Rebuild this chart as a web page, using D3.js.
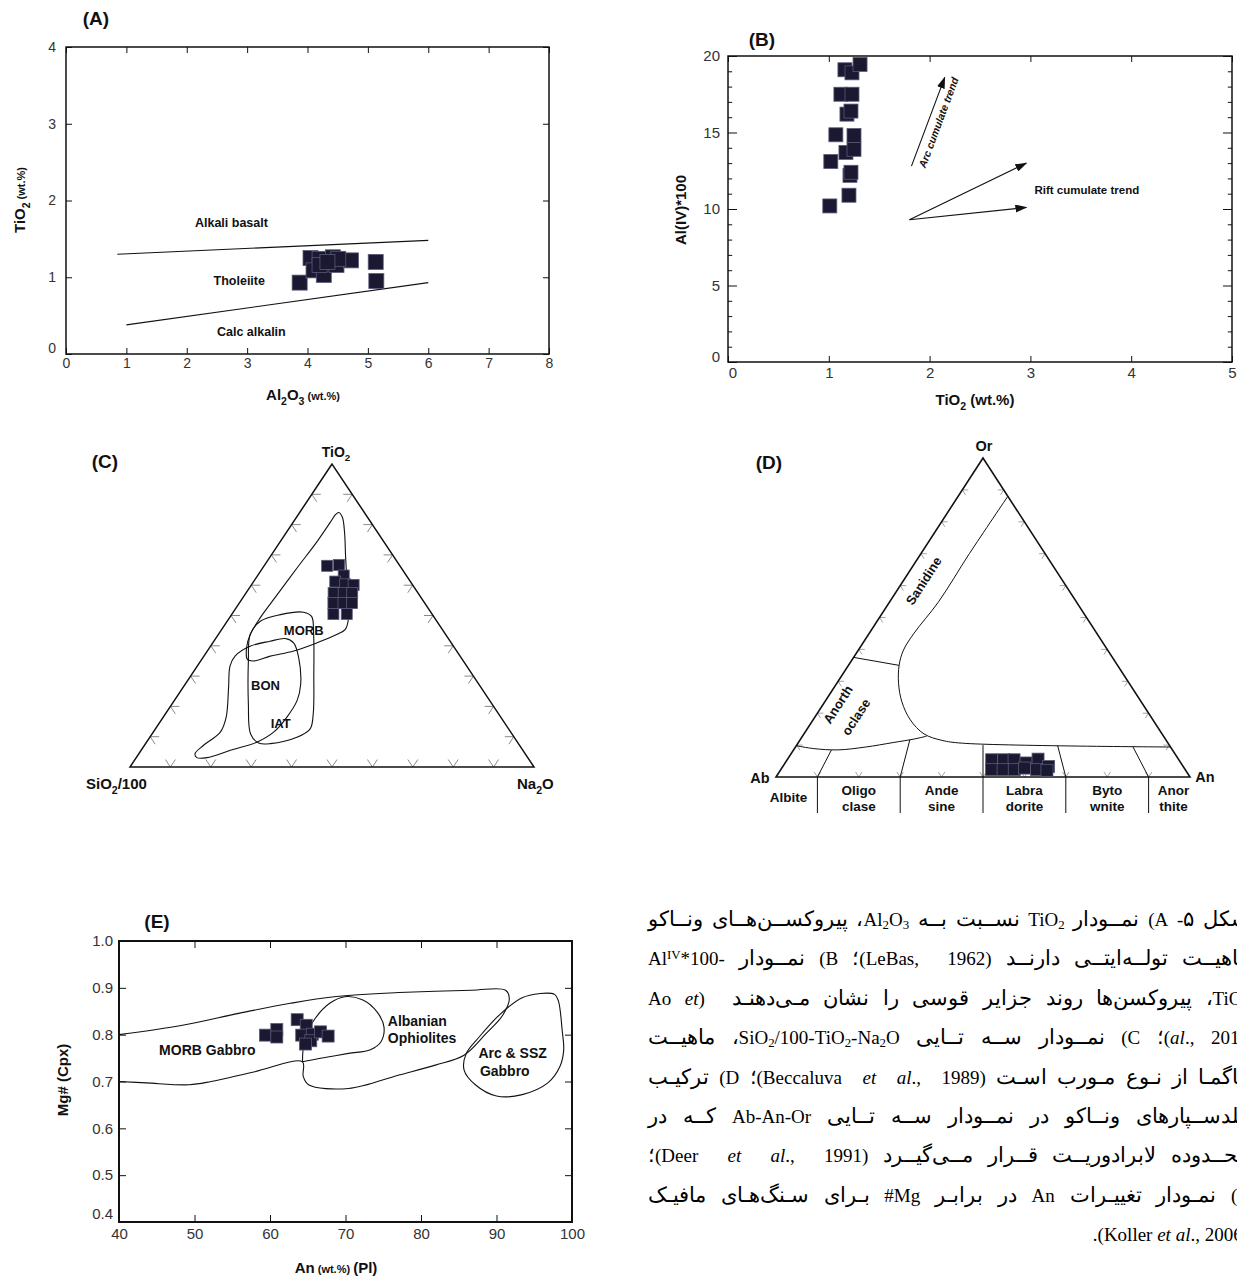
<!DOCTYPE html>
<html>
<head>
<meta charset="utf-8">
<script src="https://cdn.jsdelivr.net/npm/d3@7"></script>
<style>
  @font-face {
    font-family: "FaArabic";
    src: local("DejaVu Sans"), local("DejaVuSans");
    unicode-range: U+0600-06FF, U+200C-200F, U+FB50-FDFF, U+FE70-FEFF;
    size-adjust: 113%;
  }
  html, body { margin: 0; padding: 0; background: #fff; overflow: hidden; width: 1237px; height: 1280px; }
  svg { position: absolute; left: 0; top: 0; }
  .fa { position: absolute; left: 648px; width: 601px; direction: rtl; white-space: nowrap;
        font-family: "FaArabic", "Liberation Serif", "DejaVu Sans", serif; font-size: 19px; line-height: 1; color: #000; }
  .fa sub { font-size: 0.68em; vertical-align: -0.25em; line-height: 0; }
  .fa sup { font-size: 0.68em; vertical-align: 0.5em; line-height: 0; }
</style>
</head>
<body>
<svg id="fig" width="1237" height="1280"></svg>
<script>
// ---------- (A) TiO2 vs Al2O3 of clinopyroxene ----------
const aAl2O3 = [3.87, 4.05, 4.20, 4.10, 4.27, 4.42, 4.48, 4.72, 5.13, 5.14, 4.20, 4.51, 4.33];
const aTiO2  = [0.93, 1.25, 1.24, 1.09, 1.03, 1.26, 1.16, 1.22, 1.20, 0.95, 1.16, 1.24, 1.20];
const aAlkaliLine = [[0.85, 1.30], [6.0, 1.48]];
const aCalcLine   = [[1.0, 0.38], [6.0, 0.93]];
const aFieldNames = [["Alkali basalt", 2.74, 1.71], ["Tholeiite", 2.87, 0.95], ["Calc alkalin", 3.07, 0.29]];
const aXTicks = [0, 1, 2, 3, 4, 5, 6, 7, 8];
const aYTicks = [0, 1, 2, 3, 4];

// ---------- (B) Al(IV)*100 vs TiO2 ----------
const bTiO2 = [1.01, 1.20, 1.21, 1.22, 1.02, 1.17, 1.25, 1.07, 1.25, 1.18, 1.22, 1.12, 1.23, 1.16, 1.23, 1.31];
const bAlIV = [10.2, 10.9, 12.2, 12.4, 13.1, 13.7, 13.9, 14.85, 14.8, 16.2, 16.4, 17.5, 17.5, 19.1, 18.9, 19.45];
const bArcArrow   = [[1.82, 12.8], [2.15, 18.6]];
const bRiftArrows = [[[1.80, 9.3], [2.96, 13.0]], [[1.80, 9.3], [2.96, 10.1]]];
const bXTicks = [0, 1, 2, 3, 4, 5];
const bYTicks = [0, 5, 10, 15, 20];

// ---------- (C) SiO2/100 - TiO2 - Na2O ternary, values as [TiO2 %, Na2O %] ----------
const cSamples = [[66.4, 15.6], [66.7, 18.4], [63.2, 21.3], [61.2, 20.2], [60.3, 23.1], [60.1, 25.3],
                  [57.4, 21.7], [57.4, 24.2], [57.4, 26.3], [54.1, 23.3], [54.1, 25.8], [54.1, 27.9],
                  [50.5, 25.1], [50.5, 28.4]];
const cMORB = [[84.0, 9.7], [82.5, 11.3], [77.6, 14.3], [69.9, 18.4], [62.3, 22.5], [54.6, 26.7], [49.2, 29.5],
               [45.4, 30.6], [43.7, 29.3], [41.0, 25.8], [38.3, 21.4], [36.6, 16.4], [35.0, 13.1], [35.5, 11.3],
               [39.3, 9.2], [43.7, 7.9], [49.2, 7.6], [56.8, 8.0], [65.6, 8.5], [74.3, 9.1], [80.9, 9.2], [83.3, 9.2]];
const cBON  = [[43.7, 7.9], [48.1, 8.2], [50.3, 12.1], [51.1, 17.4], [49.7, 20.1], [43.7, 23.6], [30.6, 30.2],
               [17.5, 36.6], [12.6, 38.3], [9.8, 36.4], [7.7, 30.9], [7.9, 27.9], [10.9, 24.4], [20.8, 18.9], [35.0, 11.8]];
const cIAT  = [[3.1, 15.0], [4.4, 13.9], [7.1, 14.6], [11.5, 16.6], [16.4, 15.6], [26.2, 11.3], [33.3, 8.1],
               [36.6, 7.7], [39.9, 9.9], [41.5, 13.9], [42.4, 17.2], [41.0, 20.0], [36.1, 23.7], [27.3, 28.6],
               [21.9, 30.4], [16.4, 30.6], [11.5, 29.8], [8.2, 27.3], [5.5, 22.1], [3.1, 17.5]];
const cFieldNames = [["MORB", 45.2, 20.4], ["BON", 26.9, 20.1], ["IAT", 14.4, 30.1]];

// ---------- (D) Ab - An - Or feldspar ternary, values as [Or %, An %] ----------
const dSamples = [[5.4, 49.4], [5.4, 52.3], [5.4, 54.8], [4.4, 58.2], [5.6, 60.5], [3.3, 64.2],
                  [2.3, 50.9], [2.3, 53.7], [2.3, 56.4], [2.8, 58.6], [2.3, 61.8], [2.1, 64.4]];
const dSanidineLine = [[88.0, 12.0], [70.0, 11.7], [54.9, 11.8], [45.0, 10.8], [39.8, 10.9], [35.1, 12.2],
                       [29.4, 14.9], [23.6, 18.6], [17.9, 23.5], [13.5, 29.0], [11.5, 34.3], [10.6, 39.7], [9.4, 90.6]];
const dAnorthoclaseTop = [[37.5, 0.0], [35.0, 12.2]];
const dAnorthoclaseBase = [[9.8, 0.0], [8.9, 4.7], [8.5, 10.7], [9.4, 17.0], [10.8, 22.9], [11.9, 27.4], [12.8, 30.0]];
const dPlagSplits = [10, 30, 50, 70, 90];          // An/(An+Ab) %
const dPlagSplitOr = [8.5, 11.7, 10.0, 9.8, 9.5];   // Or % where each divider stops
const dPlagNames = [["Albite"], ["Oligo", "clase"], ["Ande", "sine"], ["Labra", "dorite"], ["Byto", "wnite"], ["Anor", "thite"]];
const dPlagMid = [3, 20, 40, 60, 80, 96];

// ---------- (E) Mg# (Cpx) vs An (Pl) ----------
const eAn = [59.4, 60.9, 60.9, 63.6, 64.8, 64.2, 65.6, 65.4, 66.7, 67.7, 64.7];
const eMg = [0.799, 0.811, 0.795, 0.832, 0.820, 0.799, 0.801, 0.787, 0.806, 0.797, 0.780];
const eMORBGabbro = [[40, 0.80], [48.4, 0.82], [56.0, 0.846], [62.7, 0.867], [68.5, 0.881], [77.1, 0.890],
                     [86.7, 0.895], [91.2, 0.895], [91.7, 0.876], [90.8, 0.841], [88.6, 0.802], [85.7, 0.756],
                     [81.9, 0.735], [77.1, 0.714], [70.4, 0.685], [65.1, 0.693], [64.4, 0.711], [64.3, 0.742],
                     [58.0, 0.721], [52.2, 0.700], [49.3, 0.693], [43.6, 0.697], [40, 0.70]];
const eAlbanian = [[64.3, 0.742], [64.6, 0.790], [66.0, 0.835], [68.0, 0.868], [69.9, 0.881], [72.3, 0.874],
                   [74.2, 0.848], [75.1, 0.816], [74.7, 0.785], [73.3, 0.768], [70.4, 0.760], [66.5, 0.749], [64.3, 0.742]];
const eArcSSZ = [[95.8, 0.888], [97.7, 0.886], [98.2, 0.872], [98.7, 0.809], [98.9, 0.767], [98.4, 0.732],
                 [96.8, 0.697], [93.4, 0.672], [90.0, 0.669], [87.2, 0.693], [85.7, 0.725], [86.0, 0.760],
                 [87.7, 0.795], [90.5, 0.844], [93.4, 0.879], [95.8, 0.888]];
const eXTicks = [40, 50, 60, 70, 80, 90, 100];
const eYTicks = [0.4, 0.5, 0.6, 0.7, 0.8, 0.9, 1.0];

// ---------- caption (Persian) ----------
const faLines = [
  "شکل ۵- A) نمــودار TiO<sub>2</sub> نســبت بــه Al<sub>2</sub>O<sub>3</sub>، پیروکســن‌هــای ونــاکو",
  "ماهیــت تولــه‌ایتــی دارنــد (LeBas,&nbsp; 1962)؛ B) نمــودار -Al<sup>IV</sup>*100",
  "TiO<sub>2</sub>، پیروکسن‌ها روند جزایر قوسی را نشان مـی‌دهنـد &nbsp;(Ao <i>et</i>",
  "<i>al</i>., 2010)؛ C) نمــودار ســه تــایی SiO<sub>2</sub>/100-TiO<sub>2</sub>-Na<sub>2</sub>O، ماهیــت",
  "ماگمـا از نـوع مـورب اسـت (Beccaluva&nbsp; <i>et&nbsp; al</i>.,&nbsp; 1989)؛ D) ترکیـب",
  "فلدســپارهای ونــاکو در نمــودار ســه تــایی Ab-An-Or کــه در",
  "محــدوده لابرادوریــت قــرار مــی‌گیــرد (Deer&nbsp; <i>et&nbsp; al</i>.,&nbsp; 1991)؛",
  "E) نمـودار تغییـرات An در برابـر Mg# بـرای سـنگ‌هـای مافیـک",
  "(Koller <i>et al</i>., 2006)."
];

// ================= drawing =================
const svg = d3.select("#fig");
const SANS = '"Liberation Sans", Arial, sans-serif';
const NARROW = '"Liberation Sans Narrow", "Liberation Sans", Arial, sans-serif';
const INK = "#111";
const MARK_FILL = "#1a1931", MARK_EDGE = "#5a5a78";

function rich(sel, parts, base) {
  let shift = 0;
  parts.forEach(p => {
    const want = p.sub ? base * 0.3 : 0;
    sel.append("tspan")
      .attr("dy", want - shift)
      .attr("font-size", p.size || (p.sub ? base * 0.7 : base))
      .text(p.t);
    shift = want;
  });
  return sel;
}

function label(g, x, y, parts, o = {}) {
  const t = g.append("text").attr("x", x).attr("y", y)
    .attr("font-family", o.family || SANS).attr("font-weight", o.weight || "bold")
    .attr("font-style", o.style || "normal")
    .attr("text-anchor", o.anchor || "middle").attr("fill", o.fill || INK)
    .attr("font-size", o.size || 14);
  if (o.rotate !== undefined) t.attr("transform", `rotate(${o.rotate},${x},${y})`);
  if (typeof parts === "string") t.text(parts); else rich(t, parts, o.size || 14);
  return t;
}

function squares(g, pts, size) {
  g.selectAll(null).data(pts).join("rect")
    .attr("x", d => d[0] - size / 2).attr("y", d => d[1] - size / 2)
    .attr("width", size).attr("height", size)
    .attr("fill", MARK_FILL).attr("stroke", MARK_EDGE).attr("stroke-width", 0.8);
}

function styleAxis(a, fs) {
  a.select(".domain").remove();
  a.selectAll(".tick line").attr("stroke", INK).attr("stroke-width", 1);
  a.selectAll(".tick text").attr("font-family", SANS).attr("font-size", fs).attr("fill", "#333");
}

function box(g, x, y, o) {
  const [x0, x1] = x.range(), [y0, y1] = y.range();
  const ts = o.ts || 6, fs = o.fs || 14;
  const bottom = g.append("g").attr("transform", `translate(0,${y0})`)
    .call(d3.axisBottom(x).tickValues(o.xt).tickSize(-ts).tickSizeOuter(0).tickPadding(o.xpad || 5).tickFormat(o.xf || d3.format("")));
  styleAxis(bottom, fs);
  const top = g.append("g").attr("transform", `translate(0,${y1})`)
    .call(d3.axisTop(x).tickValues(o.xt).tickSize(-ts).tickSizeOuter(0).tickFormat(""));
  styleAxis(top, fs);
  const ytAll = o.ytMinor || o.yt;
  const left = g.append("g").attr("transform", `translate(${x0},0)`)
    .call(d3.axisLeft(y).tickValues(ytAll).tickSize(-ts).tickSizeOuter(0).tickPadding(o.ypad || 6)
      .tickFormat(d => o.yt.includes(d) ? (o.yf || d3.format(""))(d) : ""));
  styleAxis(left, fs);
  const right = g.append("g").attr("transform", `translate(${x1},0)`)
    .call(d3.axisRight(y).tickValues(ytAll).tickSize(-ts).tickSizeOuter(0).tickFormat(""));
  styleAxis(right, fs);
  if (o.ytMinor) {
    [left, right].forEach(a => a.selectAll(".tick line")
      .attr("x2", function (d) { const v = +d3.select(this).attr("x2"); return o.yt.includes(d) ? v * 1.5 : v * 0.7; }));
  }
  g.append("rect").attr("x", x0).attr("y", y1).attr("width", x1 - x0).attr("height", y0 - y1)
    .attr("fill", "none").attr("stroke", INK).attr("stroke-width", o.sw || 1.5);
  return { bottom, left };
}

// ---------- panel A ----------
{
  const g = svg.append("g");
  const x = d3.scaleLinear().domain([0, 8]).range([66, 549]);
  const y = d3.scaleLinear().domain([0, 4]).range([354, 47]);
  const ax = box(g, x, y, { xt: aXTicks, yt: aYTicks, ts: 6, fs: 14, xpad: 4, ypad: 10 });
  ax.left.selectAll(".tick").filter(d => d === 0).select("text").attr("dy", "-0.1em");
  const line = d3.line().x(d => x(d[0])).y(d => y(d[1]));
  [aAlkaliLine, aCalcLine].forEach(l => g.append("path").attr("d", line(l)).attr("fill", "none").attr("stroke", INK).attr("stroke-width", 1.1));
  aFieldNames.forEach(([t, vx, vy]) => label(g, x(vx), y(vy) + 4, t, { size: 12.5, family: NARROW }));
  squares(g, aAl2O3.map((v, i) => [x(v), y(aTiO2[i])]), 15);
  label(g, 96, 25, "(A)", { size: 19 });
  label(g, 303, 400, [{ t: "Al" }, { t: "2", sub: true }, { t: "O" }, { t: "3", sub: true }, { t: " (wt.%)", size: 11 }], { size: 15 });
  label(g, 25, 200, [{ t: "TiO" }, { t: "2", sub: true }, { t: " (wt.%)", size: 11 }], { size: 15, rotate: -90 });
}

// ---------- panel B ----------
{
  const g = svg.append("g");
  const x = d3.scaleLinear().domain([0, 5]).range([728, 1232]);
  const y = d3.scaleLinear().domain([0, 20]).range([362, 56]);
  const minor = d3.range(0, 21, 1);
  const ax = box(g, x, y, { xt: bXTicks, yt: bYTicks, ytMinor: minor, ts: 6, fs: 15, xpad: 5, ypad: 8 });
  ax.left.selectAll(".tick").filter(d => d === 0).select("text").attr("dy", "-0.05em");
  ax.bottom.selectAll(".tick").filter(d => d === 0).select("text").attr("dx", "0.3em");
  squares(g, bTiO2.map((v, i) => [x(v), y(bAlIV[i])]), 14);

  const defs = svg.append("defs");
  defs.append("marker").attr("id", "head").attr("viewBox", "0 0 12 8").attr("refX", 11).attr("refY", 4)
    .attr("markerWidth", 12).attr("markerHeight", 8).attr("markerUnits", "userSpaceOnUse").attr("orient", "auto")
    .append("path").attr("d", "M0,0 L12,4 L0,8 Z").attr("fill", INK);
  const line = d3.line().x(d => x(d[0])).y(d => y(d[1]));
  [bArcArrow, ...bRiftArrows].forEach(a => g.append("path").attr("d", line(a)).attr("fill", "none")
    .attr("stroke", INK).attr("stroke-width", 1.1).attr("marker-end", "url(#head)"));
  const [p0, p1] = bArcArrow.map(d => [x(d[0]), y(d[1])]);
  const ang = Math.atan2(p1[1] - p0[1], p1[0] - p0[0]) * 180 / Math.PI;
  const mx = (p0[0] + p1[0]) / 2 + 14, my = (p0[1] + p1[1]) / 2 + 2;
  label(g, mx, my, "Arc cumulate trend", { size: 10.5, family: NARROW, style: "italic", rotate: ang });
  label(g, x(3.04), y(11.0), "Rift cumulate trend", { size: 11.5, family: NARROW, anchor: "start" });
  label(g, 762, 46, "(B)", { size: 19 });
  label(g, 975, 405, [{ t: "TiO" }, { t: "2", sub: true }, { t: " (wt.%)" }], { size: 15 });
  label(g, 686, 210, "Al(IV)*100", { size: 15, rotate: -90 });
}

// ---------- ternary helpers ----------
function ternTicks(g, proj, L, color, sw) {
  const V = [[100, 0], [0, 0], [0, 100]].map(proj);
  const edges = [[1, 2, 0], [1, 0, 2], [2, 0, 1]];
  const segs = [];
  edges.forEach(([i, j, k]) => {
    for (let s = 1; s < 10; s++) {
      const t = s / 10;
      const E = [V[i][0] + t * (V[j][0] - V[i][0]), V[i][1] + t * (V[j][1] - V[i][1])];
      [i, j].forEach(m => {
        const dx = V[k][0] - V[m][0], dy = V[k][1] - V[m][1], n = Math.hypot(dx, dy);
        segs.push([E, [E[0] + L * dx / n, E[1] + L * dy / n]]);
      });
    }
  });
  g.selectAll(null).data(segs).join("line")
    .attr("x1", d => d[0][0]).attr("y1", d => d[0][1]).attr("x2", d => d[1][0]).attr("y2", d => d[1][1])
    .attr("stroke", color).attr("stroke-width", sw);
}
function ternFrame(g, proj, sw) {
  const V = [[100, 0], [0, 0], [0, 100]].map(proj);
  g.append("path").attr("d", "M" + V.map(p => p.join(",")).join("L") + "Z")
    .attr("fill", "none").attr("stroke", INK).attr("stroke-width", sw).attr("stroke-linejoin", "miter");
}

// ---------- panel C ----------
{
  const g = svg.append("g");
  const u = d3.scaleLinear().domain([0, 100]).range([130, 534]);   // Na2O + TiO2/2 along the base
  const v = d3.scaleLinear().domain([0, 100]).range([767, 464]);   // TiO2 height
  const proj = ([ti, na]) => [u(na + ti / 2), v(ti)];
  ternTicks(g, proj, 9, "#8a8a8a", 1);
  ternFrame(g, proj, 1.5);
  const loop = d3.line().x(d => proj(d)[0]).y(d => proj(d)[1]).curve(d3.curveCatmullRomClosed.alpha(0.5));
  [cMORB, cBON, cIAT].forEach(f => g.append("path").attr("d", loop(f)).attr("fill", "none").attr("stroke", INK).attr("stroke-width", 1.1));
  cFieldNames.forEach(([t, ti, na]) => { const p = proj([ti, na]); label(g, p[0], p[1] + 5, t, { size: 13 }); });
  squares(g, cSamples.map(proj), 11);
  label(g, 105, 468, "(C)", { size: 19 });
  label(g, 336, 457, [{ t: "TiO" }, { t: "2", sub: true }], { size: 14 });
  label(g, 86, 789, [{ t: "SiO" }, { t: "2", sub: true }, { t: "/100" }], { size: 15, anchor: "start" });
  label(g, 517, 789, [{ t: "Na" }, { t: "2", sub: true }, { t: "O" }], { size: 15, anchor: "start" });
}

// ---------- panel D ----------
{
  const g = svg.append("g");
  const u = d3.scaleLinear().domain([0, 100]).range([776, 1190]);  // An + Or/2 along the base
  const v = d3.scaleLinear().domain([0, 100]).range([777, 458]);   // Or height
  const proj = ([or, an]) => [u(an + or / 2), v(or)];
  ternTicks(g, proj, 6, "#9a9a9a", 0.9);
  ternFrame(g, proj, 1.6);
  const path = d3.line().x(d => proj(d)[0]).y(d => proj(d)[1]);
  const smooth = d3.line().x(d => proj(d)[0]).y(d => proj(d)[1]).curve(d3.curveCatmullRom.alpha(0.5));
  g.append("path").attr("d", smooth(dSanidineLine)).attr("fill", "none").attr("stroke", INK).attr("stroke-width", 1);
  g.append("path").attr("d", path(dAnorthoclaseTop)).attr("fill", "none").attr("stroke", INK).attr("stroke-width", 1);
  g.append("path").attr("d", smooth(dAnorthoclaseBase)).attr("fill", "none").attr("stroke", INK).attr("stroke-width", 1);
  dPlagSplits.forEach((p, i) => {
    const o = dPlagSplitOr[i];
    g.append("path").attr("d", path([[0, p], [o, p * (100 - o) / 100]])).attr("fill", "none").attr("stroke", INK).attr("stroke-width", 1);
    const b = proj([0, p]);
    g.append("line").attr("x1", b[0]).attr("x2", b[0]).attr("y1", b[1]).attr("y2", b[1] + 36)
      .attr("stroke", INK).attr("stroke-width", 1);
  });
  squares(g, dSamples.map(proj), 12);
  dPlagNames.forEach((n, i) => {
    const px = proj([0, dPlagMid[i]])[0];
    if (n.length === 1) label(g, px, 802, n[0], { size: 13.5 });
    else { label(g, px, 795, n[0], { size: 13.5 }); label(g, px, 811, n[1], { size: 13.5 }); }
  });
  const A = proj([0, 0]), O = proj([100, 0]);
  const edgeAng = Math.atan2(O[1] - A[1], O[0] - A[0]) * 180 / Math.PI;
  const sPos = proj([62.0, 5.6]);
  label(g, sPos[0], sPos[1] + 4, "Sanidine", { size: 13, rotate: edgeAng });
  const a1 = proj([23.2, 4.3]), a2 = proj([19.3, 10.6]);
  label(g, a1[0], a1[1] + 4, "Anorth", { size: 13, rotate: edgeAng });
  label(g, a2[0], a2[1] + 4, "oclase", { size: 13, rotate: edgeAng });
  label(g, 769, 469, "(D)", { size: 19 });
  label(g, 984, 451, "Or", { size: 14.5 });
  label(g, 760, 783, "Ab", { size: 14.5 });
  label(g, 1205, 782, "An", { size: 14.5 });
}

// ---------- panel E ----------
{
  const g = svg.append("g");
  const x = d3.scaleLinear().domain([40, 100]).range([119, 572]);
  const y = d3.scaleLinear().domain([0.4, 1.0]).range([1222, 941]);
  const ax = box(g, x, y, { xt: eXTicks, yt: eYTicks, ts: 7, fs: 15, xpad: 6, ypad: 6, yf: d3.format(".1f"), sw: 2 });
  ax.left.selectAll(".tick").filter(d => Math.abs(d - 0.4) < 1e-9).select("text").attr("dy", "-0.25em");
  const loop = d3.line().x(d => x(d[0])).y(d => y(d[1])).curve(d3.curveCatmullRom.alpha(0.5));
  [eMORBGabbro, eAlbanian, eArcSSZ].forEach(f => g.append("path").attr("d", loop(f)).attr("fill", "none").attr("stroke", INK).attr("stroke-width", 1.1));
  squares(g, eAn.map((v, i) => [x(v), y(eMg[i])]), 12);
  label(g, x(51.7), y(0.768) + 5, "MORB Gabbro", { size: 14 });
  label(g, x(75.6), y(0.829) + 5, "Albanian", { size: 14, anchor: "start" });
  label(g, x(75.6), y(0.792) + 5, "Ophiolites", { size: 14, anchor: "start" });
  label(g, x(87.6), y(0.761) + 5, "Arc & SSZ", { size: 14, anchor: "start" });
  label(g, x(87.8), y(0.723) + 5, "Gabbro", { size: 14, anchor: "start" });
  label(g, 157, 928, "(E)", { size: 19 });
  label(g, 336, 1273, [{ t: "An" }, { t: " (wt.%) ", size: 11 }, { t: "(Pl)" }], { size: 15 });
  label(g, 68, 1080, "Mg# (Cpx)", { size: 15, rotate: -90 });
}

// ---------- Persian caption, justified line by line ----------
{
  const top0 = 921, step = 39.4, W = 601;
  const spans = faLines.map((h, i) => {
    const d = document.createElement("div");
    d.className = "fa";
    d.style.top = (top0 + i * step - 11) + "px";
    const s = document.createElement("span");
    s.innerHTML = h;
    d.appendChild(s);
    document.body.appendChild(d);
    return s;
  });
  const justify = () => spans.forEach((s, i) => {
    if (i === spans.length - 1) return;
    s.style.wordSpacing = "0px";
    s.style.transform = "";
    s.style.display = "inline";
    const w = s.getBoundingClientRect().width;
    const n = (s.textContent.match(/[ \u00a0]/g) || []).length;
    const gap = (W - w) / n;
    if (gap > -3) s.style.wordSpacing = gap + "px";
    else {
      s.style.display = "inline-block";
      s.style.transformOrigin = "right center";
      s.style.transform = `scaleX(${W / w})`;
    }
  });
  justify();
  if (document.fonts && document.fonts.load) {
    document.fonts.load('19px "FaArabic"', "پیروکسن").then(justify, justify);
    document.fonts.ready.then(justify);
  }
}
</script>
</body>
</html>
